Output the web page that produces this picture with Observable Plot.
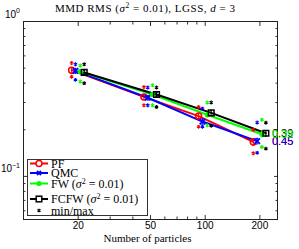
<!DOCTYPE html>
<html><head><meta charset="utf-8">
<script src="https://cdn.jsdelivr.net/npm/d3@7"></script>
<script src="https://cdn.jsdelivr.net/npm/@observablehq/plot@0.6"></script>
<style>body{margin:0;background:#fff} svg{display:block}</style>
</head><body><div id="chart"></div>
<script>
// ---- data ----
const particles = [20, 50, 100, 200];
const seriesNames = ["PF", "QMC", "FW", "FCFW"];
const meanPF   = [0.485, 0.326, 0.245, 0.167];
const meanQMC  = [0.480, 0.322, 0.226, 0.169];
const meanFW   = [0.475, 0.338, 0.250, 0.187];
const meanFCFW = [0.469, 0.338, 0.257, 0.190];
const errPF   = [0.020, 0.012, 0.009, 0.008];
const errQMC  = [0.018, 0.011, 0.009, 0.007];
const errFW   = [0.015, 0.010, 0.008, 0.007];
const errFCFW = [0.014, 0.010, 0.009, 0.008];
const minPF   = [0.440, 0.288, 0.209, 0.141];
const maxPF   = [0.540, 0.378, 0.281, 0.200];
const minQMC  = [0.420, 0.288, 0.209, 0.142];
const maxQMC  = [0.530, 0.375, 0.274, 0.223];
const minFW   = [0.410, 0.288, 0.214, 0.155];
const maxFW   = [0.520, 0.388, 0.300, 0.232];
const minFCFW = [0.400, 0.281, 0.212, 0.151];
const maxFCFW = [0.530, 0.375, 0.300, 0.222];
const rateLabels = ["0.45", "0.45", "0.39", "0.39"];
const xTickValues = [20, 50, 100, 200];
const xMinorTicks = [30, 40, 60, 70, 80, 90];
const yTickValues = [1, 0.1];
const yTickBase = ["10", "10"];
const yTickExp = ["0", "\u22121"];
const yMinorTicks = [0.06, 0.07, 0.08, 0.09, 0.2, 0.3, 0.4, 0.5, 0.6, 0.7, 0.8, 0.9];
const titleParts = [{t: "MMD RMS ("}, {t: "\u03c3", i: true}, {t: "2", sup: true}, {t: " = 0.01), LGSS, "}, {t: "d", i: true}, {t: " = 3"}];
const xLabel = "Number of particles";
const legendLabels = [
  [{t: "PF"}],
  [{t: "QMC"}],
  [{t: "FW ("}, {t: "\u03c3", i: true}, {t: "2", sup: true}, {t: " = 0.01)"}],
  [{t: "FCFW ("}, {t: "\u03c3", i: true}, {t: "2", sup: true}, {t: " = 0.01)"}],
  [{t: "min/max"}]
];

// ---- table ----
const byName = {
  PF: [meanPF, errPF, minPF, maxPF],
  QMC: [meanQMC, errQMC, minQMC, maxQMC],
  FW: [meanFW, errFW, minFW, maxFW],
  FCFW: [meanFCFW, errFCFW, minFCFW, maxFCFW]
};
const rows = [];
seriesNames.forEach((s, si) => {
  const [m, e, lo, hi] = byName[s];
  particles.forEach((n, i) => rows.push({series: s, n, mean: m[i], err: e[i], lo: lo[i], hi: hi[i], rate: rateLabels[si], last: i === particles.length - 1}));
});
const extremes = rows.flatMap(d => [{...d, v: d.lo}, {...d, v: d.hi}]);
const labelOrder = ["PF", "QMC", "FCFW", "FW"];
const lastRows = rows.filter(d => d.last).sort((a, b) => labelOrder.indexOf(a.series) - labelOrder.indexOf(b.series));

// ---- styles ----
const colors = ["#ff0000", "#0000ff", "#00ff00", "#000000"];
const dodge = {PF: 0.92, QMC: 0.966, FW: 1.026, FCFW: 1.079};
const X = d => d.n * dodge[d.series];
const cap = 1.014;
const serif = "'Liberation Serif', 'Times New Roman', serif";
const sans = "'Liberation Sans', Arial, sans-serif";
const only = s => rows.filter(d => d.series === s);

const chart = Plot.plot({
  width: 299, height: 249,
  marginLeft: 23, marginRight: 22, marginTop: 21, marginBottom: 30,
  style: {fontFamily: sans, fontSize: "10px", background: "white", color: "black"},
  x: {type: "log", domain: [10, 250]},
  y: {type: "log", domain: [0.0527, 1]},
  color: {domain: seriesNames, range: colors},
  marks: [
    Plot.axisX(xMinorTicks, {anchor: "bottom", tickSize: -2.5, fill: "none", label: null, stroke: "#333"}),
    Plot.axisX(xMinorTicks, {anchor: "top", tickSize: -2.5, fill: "none", label: null, stroke: "#333"}),
    Plot.axisX(xTickValues, {anchor: "bottom", tickSize: -4, fill: "none", label: null, stroke: "#333"}),
    Plot.axisX(xTickValues, {anchor: "top", tickSize: -4, fill: "none", label: null, stroke: "#333"}),
    Plot.axisY(yMinorTicks, {anchor: "left", tickSize: -2.5, fill: "none", label: null, stroke: "#333"}),
    Plot.axisY(yMinorTicks, {anchor: "right", tickSize: -2.5, fill: "none", label: null, stroke: "#333"}),
    Plot.axisY(yTickValues, {anchor: "left", tickSize: -4, fill: "none", label: null, stroke: "#333"}),
    Plot.axisY(yTickValues, {anchor: "right", tickSize: -4, fill: "none", label: null, stroke: "#333"}),
    Plot.text(xTickValues, {x: d => d, text: d => String(d), frameAnchor: "bottom", dy: 9, fontSize: 10, fill: "black"}),
    Plot.frame({stroke: "#222"}),
    Plot.line(rows, {x: X, y: "mean", z: "series", stroke: "series", strokeWidth: 2}),
    Plot.ruleX(rows, {x: X, y1: d => d.mean - d.err, y2: d => d.mean + d.err, stroke: "series", strokeWidth: 1}),
    Plot.link(rows, {x1: d => X(d) / cap, x2: d => X(d) * cap, y1: d => d.mean - d.err, y2: d => d.mean - d.err, stroke: "series", strokeWidth: 1}),
    Plot.link(rows, {x1: d => X(d) / cap, x2: d => X(d) * cap, y1: d => d.mean + d.err, y2: d => d.mean + d.err, stroke: "series", strokeWidth: 1}),
    Plot.dot(extremes, {x: X, y: "v", stroke: "series", symbol: "asterisk", r: 1.8, strokeWidth: 1.2}),
    Plot.dot(only("PF"), {x: X, y: "mean", stroke: "series", fill: "none", r: 3, strokeWidth: 1.5}),
    Plot.dot(only("QMC"), {x: X, y: "mean", stroke: "series", symbol: "times", r: 2.6, strokeWidth: 1.8}),
    Plot.dot(only("FW"), {x: X, y: "mean", fill: "series", r: 2.6}),
    Plot.dot(only("FCFW"), {x: X, y: "mean", stroke: "series", fill: "none", symbol: "square", r: 3.2, strokeWidth: 1.5}),
    Plot.text(lastRows, {x: "n", y: "mean", text: "rate", fill: "series", dx: 12, textAnchor: "start", fontSize: 11}),
    Plot.text([xLabel], {frameAnchor: "bottom", dy: 22.5, dx: -3, fontFamily: serif, fontSize: 11, fill: "black"})
  ]
});

const svg = d3.select(chart);
function richText(sel, parts, supSize) {
  parts.forEach((p, k) => {
    const ts = sel.append("tspan").text(p.t);
    if (p.i) ts.attr("font-style", "italic");
    if (p.sup) ts.attr("font-size", supSize).attr("dy", -4);
    if (k > 0 && parts[k - 1].sup) ts.attr("dy", 4);
  });
}
// y tick labels placed through Plot's y scale
const ys = chart.scale("y");
yTickValues.forEach((v, i) => {
  const t = svg.append("text").attr("x", 20).attr("y", ys.apply(v) - 3.5)
    .attr("text-anchor", "end").attr("font-family", sans).attr("font-size", 10).attr("fill", "black");
  t.append("tspan").text(yTickBase[i]);
  t.append("tspan").text(yTickExp[i]).attr("font-size", 7).attr("dy", -4.5);
});
// title
const title = svg.append("text").attr("x", 55).attr("y", 12).attr("text-anchor", "start")
  .attr("font-family", serif).attr("font-size", 11).attr("fill", "black")
  .attr("textLength", 180).attr("lengthAdjust", "spacing");
richText(title, titleParts, 7.5);
// legend
const lg = svg.append("g").attr("font-family", serif).attr("font-size", 12).attr("text-anchor", "start");
lg.append("rect").attr("x", 27.5).attr("y", 159.5).attr("width", 120).attr("height", 56)
  .attr("fill", "white").attr("stroke", "#333").attr("stroke-width", 1);
const ly = [163.5, 173, 183.5, 199, 210.5];
legendLabels.forEach((parts, i) => {
  const y = ly[i];
  const c = i < 4 ? colors[i] : "#000";
  if (i < 4) lg.append("line").attr("x1", 30).attr("x2", 48).attr("y1", y).attr("y2", y).attr("stroke", c).attr("stroke-width", 2);
  if (i === 0) lg.append("circle").attr("cx", 39).attr("cy", y).attr("r", 3).attr("fill", "white").attr("stroke", c).attr("stroke-width", 1.5);
  if (i === 1) lg.append("path").attr("d", `M37,${y-2}L41,${y+2}M37,${y+2}L41,${y-2}`).attr("stroke", c).attr("stroke-width", 1.8);
  if (i === 2) lg.append("circle").attr("cx", 39).attr("cy", y).attr("r", 2.6).attr("fill", c);
  if (i === 3) lg.append("rect").attr("x", 36.2).attr("y", y - 2.8).attr("width", 5.6).attr("height", 5.6).attr("fill", "white").attr("stroke", c).attr("stroke-width", 1.5);
  if (i === 4) lg.append("path").attr("d", `M39,${y-1.8}V${y+1.8}M37.4,${y-0.9}L40.6,${y+0.9}M37.4,${y+0.9}L40.6,${y-0.9}`).attr("stroke", c).attr("stroke-width", 1.2);
  const t = lg.append("text").attr("x", 51).attr("y", y + 4).attr("fill", "black").attr("text-anchor", "start");
  richText(t, parts, 8);
});
document.getElementById("chart").appendChild(chart);
</script>
</body></html>
